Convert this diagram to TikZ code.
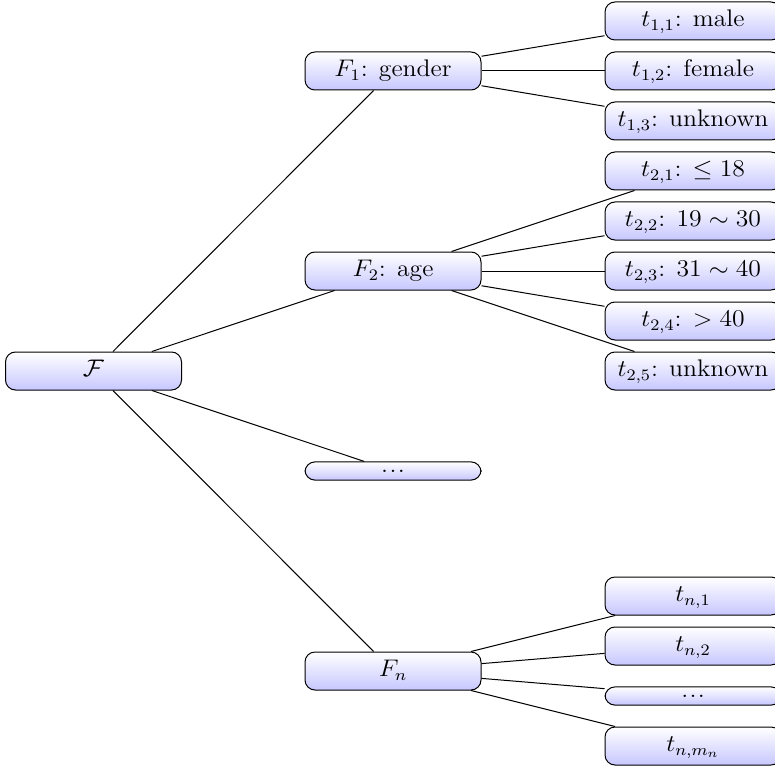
\documentclass[tikz,border=0pt]{standalone}
\usepackage{amssymb}
\newcommand{\sx}[1]{\scalebox{1.07}[1]{#1}}
\tikzset{
  box/.style={draw, line width=0.5pt, rounded corners=5pt, top color=white, bottom color=blue!22,
    font=\fontsize{12}{14}\selectfont,
    minimum width=88pt, text height=8.3pt, text depth=2.6pt, inner ysep=4.05pt, inner xsep=2pt},
  dotbox/.style={box, text height=1.3pt, text depth=0pt, inner ysep=3.9pt},
  edge/.style={draw, line width=0.5pt}
}
\begin{document}
\begin{tikzpicture}[x=0.5pt,y=-0.5pt]
\useasboundingbox (0,0) rectangle (775,770);
% root
\node[box] (F) at (93.5,371) {\sx{$\mathcal{F}$}};
% level 1
\node[box] (F1) at (393,71) {\sx{$F_1$: gender}};
\node[box] (F2) at (393,271) {\sx{$F_2$: age}};
\node[dotbox] (Fd) at (393,471) {\sx{.\kern0.6pt.\kern0.6pt.}};
\node[box] (Fn) at (393,671) {\sx{$F_n$}};
% level 2
\node[box] (t11) at (693,21) {\sx{$t_{1,1}$: male}};
\node[box] (t12) at (693,71) {\sx{$t_{1,2}$: female}};
\node[box] (t13) at (693,121) {\sx{$t_{1,3}$: unknown}};
\node[box] (t21) at (693,171) {\sx{$t_{2,1}$: $\leq 18$}};
\node[box] (t22) at (693,221) {\sx{$t_{2,2}$: $19 \sim 30$}};
\node[box] (t23) at (693,271) {\sx{$t_{2,3}$: $31 \sim 40$}};
\node[box] (t24) at (693,321) {\sx{$t_{2,4}$: $> 40$}};
\node[box] (t25) at (693,371) {\sx{$t_{2,5}$: unknown}};
\node[box] (tn1) at (693,596) {\sx{$t_{n,1}$}};
\node[box] (tn2) at (693,646) {\sx{$t_{n,2}$}};
\node[dotbox] (tnd) at (693,696) {\sx{.\kern0.6pt.\kern0.6pt.}};
\node[box] (tnm) at (693,746) {\sx{$t_{n,m_n}$}};
% edges
\foreach \c in {F1,F2,Fd,Fn} \draw[edge] (F) -- (\c);
\foreach \c in {t11,t12,t13} \draw[edge] (F1) -- (\c);
\foreach \c in {t21,t22,t23,t24,t25} \draw[edge] (F2) -- (\c);
\foreach \c in {tn1,tn2,tnd,tnm} \draw[edge] (Fn) -- (\c);
\end{tikzpicture}
\end{document}
